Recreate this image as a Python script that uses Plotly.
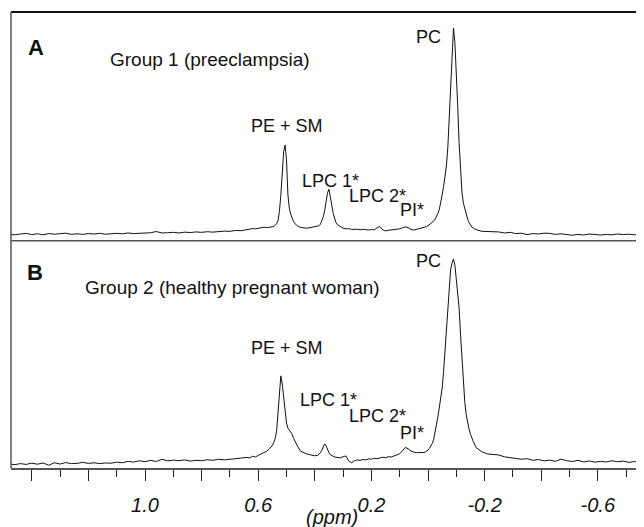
import plotly.graph_objects as go

# Chemical shift grid (ppm)
ppm = [
    1.48, 1.46, 1.44, 1.42, 1.40, 1.38, 1.36, 1.34, 1.32, 1.30,
    1.28, 1.26, 1.24, 1.22, 1.20, 1.18, 1.16, 1.14, 1.12, 1.10,
    1.08, 1.06, 1.04, 1.02, 1.00, 0.98, 0.96, 0.94, 0.92, 0.90,
    0.88, 0.86, 0.84, 0.82, 0.80, 0.78, 0.76, 0.74, 0.72, 0.70,
    0.68, 0.66, 0.64,
    0.63, 0.62, 0.61, 0.60, 0.59, 0.58, 0.57, 0.56,
    0.55, 0.545, 0.54, 0.535, 0.53, 0.525, 0.52, 0.515, 0.51, 0.505,
    0.50, 0.495, 0.49, 0.485, 0.48, 0.475, 0.47, 0.465, 0.46,
    0.45, 0.44, 0.43, 0.42, 0.41, 0.40,
    0.39, 0.385, 0.38, 0.375, 0.37, 0.365, 0.36, 0.355, 0.35, 0.345,
    0.34, 0.335, 0.33, 0.325, 0.32,
    0.31, 0.30, 0.29, 0.28, 0.27, 0.26, 0.25, 0.24, 0.23, 0.22,
    0.21, 0.20, 0.19, 0.18, 0.17, 0.16, 0.15, 0.14, 0.13, 0.12,
    0.11, 0.10, 0.09, 0.08, 0.07, 0.06, 0.05, 0.04, 0.03, 0.02,
    0.015, 0.01, 0.005, 0.0, -0.005, -0.01, -0.015, -0.02, -0.025, -0.03,
    -0.035, -0.04, -0.045, -0.05, -0.055, -0.06, -0.065, -0.07, -0.075, -0.08,
    -0.085, -0.09, -0.095, -0.10, -0.105, -0.11, -0.115, -0.12, -0.125, -0.13,
    -0.135, -0.14, -0.145, -0.15, -0.155, -0.16,
    -0.17, -0.19, -0.21, -0.23, -0.25, -0.27, -0.29, -0.31, -0.33, -0.35,
    -0.37, -0.39, -0.41, -0.43, -0.45, -0.47, -0.49, -0.51, -0.53, -0.55,
    -0.57, -0.59, -0.61, -0.63, -0.65, -0.67, -0.69, -0.71, -0.73, -0.75,
    -0.77,
]

# Group 1 (preeclampsia) spectrum intensity (PC peak = 100)
group1 = [
    -0.2, -0.4, 0.0, 0.3, -0.3, 0.1, -0.4, 0.2, -0.1, 0.0,
    0.4, -0.2, 0.1, -0.2, 0.2, 0.0, 0.3, -0.1, 0.2, 0.3,
    0.1, 0.5, 0.2, 0.4, 0.3, 0.6, 1.2, 0.5, 0.6, 0.8,
    0.5, 0.9, 0.7, 1.0, 0.8, 1.1, 0.9, 1.2, 1.4, 1.3,
    1.7, 1.6, 2.1,
    2.4, 2.6, 2.5, 2.8, 3.0, 3.3, 3.1, 3.2,
    3.3, 3.6, 4.3, 5.0, 6.5, 11, 19, 32, 40, 43.2,
    36, 19, 12.5, 9.5, 7.5, 6.0, 5.0, 4.3, 3.8,
    3.2, 2.9, 2.8, 3.0, 3.2, 3.4,
    3.6, 4.0, 4.8, 6.2, 8.4, 11.5, 16, 20, 21.7, 18.5,
    14, 10, 7.2, 5.5, 4.5,
    3.5, 2.8, 2.5, 2.6, 2.2, 2.4, 2.3, 2.0, 2.3, 2.1,
    1.9, 2.2, 2.0, 3.0, 3.6, 2.0, 1.5, 1.8, 2.0, 2.1,
    2.2, 2.5, 3.0, 3.5, 3.0, 2.2, 1.9, 2.2, 2.7, 3.0,
    3.2, 3.4, 3.6, 4.0, 4.5, 5.0, 5.6, 6.3, 7.2, 8.4,
    10, 12, 15, 19, 23, 27, 33, 42, 56, 74,
    91, 100, 93, 80, 62, 44, 30, 20, 15, 12,
    9.5, 7.2, 5.5, 4.2, 3.4, 2.8,
    2.1, 1.3, 1.2, 0.8, 1.0, 0.5, 0.8, 0.2, 0.4, -0.3,
    0.2, 0.0, 0.4, 0.3, -0.2, 0.1, -0.4, -0.6, -0.2, -0.5,
    0.0, -0.3, -0.5, -0.2, -0.4, 0.0, -0.3, -0.1, -0.4, 0.0,
    -0.2,
]

# Group 2 (healthy pregnant woman) spectrum intensity (PC peak = 100)
group2 = [
    0.0, -0.3, 0.2, -0.2, 0.4, -0.1, 0.5, -0.6, 0.6, 0.0,
    0.7, 0.2, 0.3, 0.8, 0.3, 0.6, 0.2, 0.5, 0.4, 0.9,
    0.6, 1.3, 0.9, 1.6, 1.1, 1.8, 1.2, 2.3, 1.5, 1.9,
    1.6, 2.0, 1.4, 1.8, 1.6, 2.1, 1.8, 2.3, 2.0, 2.4,
    2.6, 2.9, 3.2,
    3.0, 3.8, 3.4, 4.2, 4.8, 5.5, 6.2, 7.5,
    9.0, 10.5, 12.5, 16, 25, 35, 43, 39, 32, 25,
    20, 17.5, 16.5, 15.5, 14.5, 12.5, 11, 9.5, 8.4,
    6.2, 5.5, 5.0, 4.6, 4.2, 4.0,
    4.2, 4.8, 5.5, 6.8, 8.5, 9.8, 8.8, 7.0, 5.5, 4.5,
    4.0, 3.6, 3.4, 3.3, 3.2,
    3.0, 3.6, 3.9, 1.5, 0.6, 1.6, 2.0, 1.8, 2.2, 2.0,
    2.5, 2.3, 2.8, 2.6, 3.0, 3.3, 3.0, 3.6, 3.4, 3.9,
    4.2, 5.0, 6.5, 8.1, 7.4, 6.3, 5.8, 5.5, 5.6, 5.5,
    5.6, 5.8, 6.2, 6.8, 7.6, 8.6, 10, 12, 16.5, 19.5,
    23, 27.5, 32, 37, 45, 55, 66, 77, 87, 95,
    98, 100, 97, 91, 84, 76, 63, 50, 38, 30,
    24, 20, 17, 14.5, 12.5, 11,
    8.0, 6.0, 4.9, 4.6, 4.4, 3.5, 3.0, 2.8, 2.3, 2.6,
    1.8, 2.2, 1.5, 1.9, 1.3, 2.4, 1.6, 1.2, 1.8, 1.0,
    1.5, 0.9, 1.3, 1.0, 1.6, 1.1, 1.4, 0.8, 1.2, 0.7,
    1.0,
]

major_ticks = [1.4, 1.2, 1.0, 0.8, 0.6, 0.4, 0.2, 0.0, -0.2, -0.4, -0.6]
major_labels = ["", "", "1.0", "", "0.6", "", "0.2", "", "-0.2", "", "-0.6"]
minor_ticks = [1.3, 1.1, 0.9, 0.7, 0.5, 0.3, 0.1, -0.1, -0.3, -0.5, -0.7]

# Peak labels: (text, ppm, intensity)
labels_a = [("PC", 0.0, 95.5), ("PE + SM", 0.498, 52.4), ("LPC 1*", 0.346, 25.7),
            ("LPC 2*", 0.180, 18.4), ("PI*", 0.057, 11.7)]
labels_b = [("PC", 0.0, 99.0), ("PE + SM", 0.498, 56.6), ("LPC 1*", 0.350, 31.2),
            ("LPC 2*", 0.180, 23.4), ("PI*", 0.057, 15.1)]

FONT = "Liberation Sans, Arial, Helvetica, sans-serif"
X_RANGE = [1.4735, -0.7632]
SPLIT = 0.4985

fig = go.Figure()
fig.add_trace(go.Scatter(x=ppm, y=group1, mode="lines", xaxis="x", yaxis="y",
                         line=dict(color="#111111", width=1), hoverinfo="skip"))
fig.add_trace(go.Scatter(x=ppm, y=group2, mode="lines", xaxis="x2", yaxis="y2",
                         line=dict(color="#111111", width=1), hoverinfo="skip"))

fig.update_layout(
    width=636, height=519,
    margin=dict(l=3, r=0, t=4, b=59),
    paper_bgcolor="white", plot_bgcolor="white",
    showlegend=False,
    font=dict(family=FONT, color="#111111"),
    xaxis=dict(domain=[0, 1], anchor="y", range=X_RANGE, matches="x2",
               showticklabels=False, ticks="", showgrid=False, zeroline=False,
               showline=False),
    yaxis=dict(domain=[SPLIT, 1], range=[-3.25, 107.8], visible=False,
               showgrid=False, zeroline=False),
    xaxis2=dict(domain=[0, 1], anchor="y2", range=X_RANGE,
                tickmode="array", tickvals=major_ticks, ticktext=major_labels,
                ticks="outside", ticklen=11, tickwidth=1.2, tickcolor="#222222",
                minor=dict(tickmode="array", tickvals=minor_ticks, ticks="outside",
                           ticklen=7, tickwidth=1.2, tickcolor="#222222"),
                tickfont=dict(family=FONT, size=20, style="italic", color="#111111"),
                ticklabelstandoff=7,
                showline=True, linecolor="#555555", linewidth=1.5,
                showgrid=False, zeroline=False),
    yaxis2=dict(domain=[0, SPLIT], range=[-1.95, 108.9], visible=False,
                showgrid=False, zeroline=False),
)

shapes = [
    dict(type="line", xref="paper", yref="paper", x0=0, x1=1, y0=1, y1=1,
         line=dict(color="#111111", width=2)),
    dict(type="line", xref="paper", yref="paper", x0=0, x1=0, y0=0, y1=1,
         line=dict(color="#555555", width=1.5)),
    dict(type="line", xref="paper", yref="paper", x0=0, x1=1, y0=SPLIT, y1=SPLIT,
         line=dict(color="#555555", width=1.5)),
]
fig.update_layout(shapes=shapes)

annotations = []
for text, xv, yv in labels_a:
    annotations.append(dict(text=text, x=xv, y=yv, xref="x", yref="y", showarrow=False,
                            font=dict(size=18, family=FONT, color="#111111")))
for text, xv, yv in labels_b:
    annotations.append(dict(text=text, x=xv, y=yv, xref="x2", yref="y2", showarrow=False,
                            font=dict(size=18, family=FONT, color="#111111")))
annotations += [
    dict(text="<b>A</b>", x=1.385, y=90.8, xref="x", yref="y", showarrow=False,
         font=dict(size=22, family=FONT, color="#111111")),
    dict(text="Group 1 (preeclampsia)", x=1.132, y=84.5, xref="x", yref="y",
         xanchor="left", showarrow=False, font=dict(size=19, family=FONT, color="#111111")),
    dict(text="<b>B</b>", x=1.389, y=93.2, xref="x2", yref="y2", showarrow=False,
         font=dict(size=22, family=FONT, color="#111111")),
    dict(text="Group 2 (healthy pregnant woman)", x=1.218, y=85.9, xref="x2", yref="y2",
         xanchor="left", showarrow=False, font=dict(size=19, family=FONT, color="#111111")),
    dict(text="(ppm)", x=0.338, y=-0.1075, xref="x2", yref="paper", showarrow=False,
         yanchor="middle",
         font=dict(size=20, family=FONT, color="#111111", style="italic")),
]
fig.update_layout(annotations=annotations)

fig.write_html("out.html")
